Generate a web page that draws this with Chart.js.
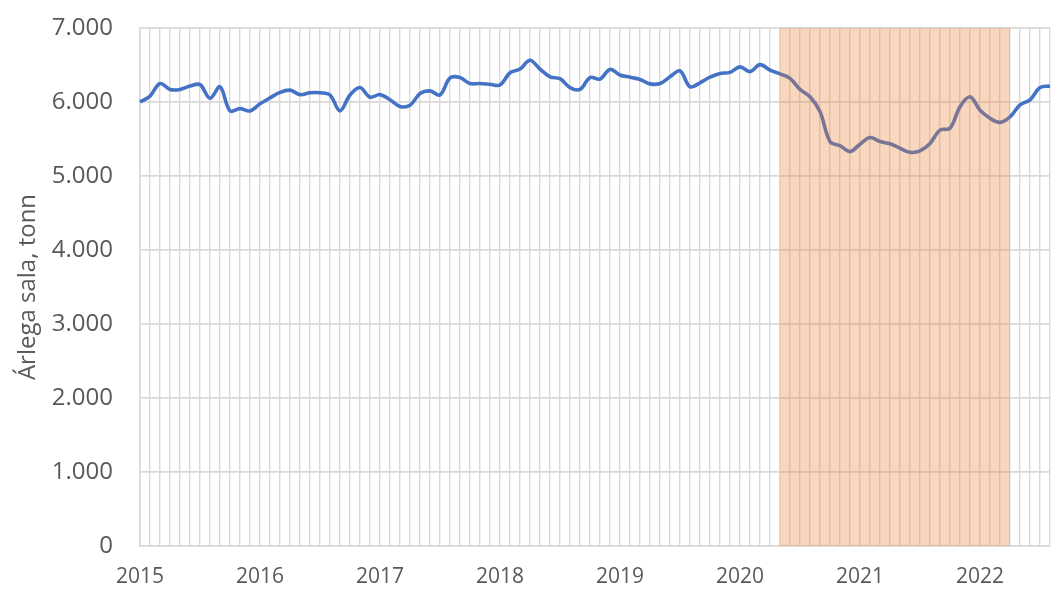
<!DOCTYPE html>
<html>
<head>
<meta charset="utf-8">
<script src="https://cdn.jsdelivr.net/npm/chart.js@4/dist/chart.umd.min.js"></script>
<style>
  html, body { margin: 0; padding: 0; background: #fff; }
  #wrap { width: 1052px; height: 591px; }
</style>
</head>
<body>
<div id="wrap"><canvas id="chart"></canvas></div>
<script>
// monthly labels, Jan 2015 .. Aug 2022
const startYear = 2015;
const monthCount = 92;
const months = [];
for (let i = 0; i < monthCount; i++) {
    months.push((startYear + Math.floor(i / 12)) + '-' + String(i % 12 + 1).padStart(2, '0'));
}

// annual sales (rolling 12 months), tonnes
const sales = [
    6000, 6080, 6250, 6170, 6170, 6215, 6235, 6050, 6205, 5880, 5910, 5880,
    5975, 6055, 6130, 6160, 6100, 6125, 6125, 6095, 5880, 6095, 6195, 6065,
    6100, 6030, 5940, 5955, 6115, 6150, 6095, 6325, 6330, 6250, 6250, 6240,
    6230, 6395, 6445, 6565, 6445, 6340, 6315, 6195, 6170, 6330, 6310, 6440,
    6365, 6335, 6305, 6245, 6250, 6340, 6420, 6205, 6260, 6335, 6385, 6400,
    6475, 6410, 6505, 6430, 6380, 6320, 6170, 6070, 5870, 5465, 5410, 5330,
    5430, 5520, 5465, 5435, 5375, 5320, 5340, 5440, 5620, 5645, 5935, 6070,
    5890, 5780, 5725, 5800, 5960, 6030, 6195, 6215
];

// shaded period
const shadeFrom = '2020-05';
const shadeTo = '2022-04';

const yTicks = [0, 1000, 2000, 3000, 4000, 5000, 6000, 7000];

const txt = '#595959';
const gridCol = '#d9d9d9';
const fontFam = '"Open Sans", "Liberation Sans", sans-serif';

const shadePlugin = {
    id: 'shade',
    afterDatasetsDraw(chart) {
        const x = chart.scales.x;
        const area = chart.chartArea;
        const x0 = x.getPixelForValue(months.indexOf(shadeFrom));
        const x1 = x.getPixelForValue(months.indexOf(shadeTo));
        const ctx = chart.ctx;
        ctx.save();
        ctx.fillStyle = 'rgba(237,125,49,0.31)';
        ctx.fillRect(x0, area.top, x1 - x0, area.bottom - area.top);
        ctx.restore();
    }
};

new Chart(document.getElementById('chart'), {
    type: 'line',
    data: {
        labels: months,
        datasets: [{
            data: sales,
            borderColor: '#4472C4',
            borderWidth: 3.6,
            pointRadius: 0,
            tension: 0.35,
            fill: false
        }]
    },
    options: {
        responsive: true,
        maintainAspectRatio: false,
        animation: false,
        layout: { padding: { top: 28, right: 2, left: 0, bottom: 0 } },
        plugins: {
            legend: { display: false },
            tooltip: { enabled: false }
        },
        scales: {
            x: {
                offset: false,
                grid: { color: gridCol, lineWidth: 1.4, drawTicks: false },
                border: { color: gridCol, width: 1.5 },
                ticks: {
                    autoSkip: false,
                    maxRotation: 0,
                    padding: 18,
                    color: txt,
                    font: { family: fontFam, size: 21 },
                    callback: (v, i) => i % 12 === 0 ? String(startYear + i / 12) : ''
                },
                afterFit: s => {
                    s.height = 45;
                    s.paddingLeft = 0;
                    s.paddingRight = 0;
                }
            },
            y: {
                min: 0,
                max: 7000,
                afterBuildTicks: s => { s.ticks = yTicks.map(v => ({ value: v })); },
                grid: { color: gridCol, lineWidth: 1.8, drawTicks: false },
                border: { color: gridCol, width: 1.5 },
                ticks: {
                    padding: 27,
                    color: txt,
                    font: { family: fontFam, size: 24 },
                    callback: v => v.toLocaleString('de-DE')
                },
                title: {
                    display: true,
                    text: 'Árlega sala, tonn',
                    color: txt,
                    font: { family: fontFam, size: 24 },
                    padding: { top: 14, bottom: 0 }
                },
                afterFit: s => {
                    s.width = 140;
                    s.paddingTop = 0;
                    s.paddingBottom = 0;
                }
            }
        }
    },
    plugins: [shadePlugin]
});
</script>
</body>
</html>
